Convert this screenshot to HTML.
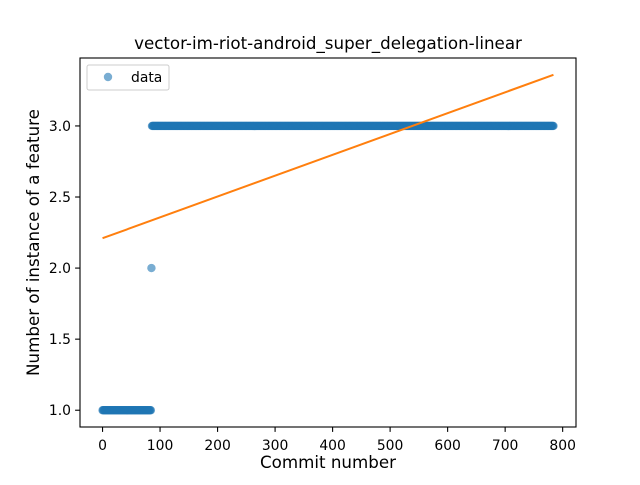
<!DOCTYPE html>
<html><head><meta charset="utf-8"><style>
body{margin:0;background:#fff;}
svg text{font-family:"DejaVu Sans","Liberation Sans",sans-serif;fill:#000;}
</style></head><body>
<svg id="chart" width="640" height="480" xmlns="http://www.w3.org/2000/svg">
<rect width="640" height="480" fill="#fff"/>
<g id="plot"></g>
</svg>
<script>
// run-length data: value and number of consecutive commits
const runValues = [1, 2, 3];
const runCounts = [85, 1, 699];
const fitStart = 2.21;
const fitEnd = 3.36;
const xTicks = [0, 100, 200, 300, 400, 500, 600, 700, 800];
const yTicks = [1.0, 1.5, 2.0, 2.5, 3.0];

const L=80,R=576,T=58,B=427;
const xMin=-39.2,xMax=823.2,yMin=0.882,yMax=3.478;
const sx=v=>L+(v-xMin)/(xMax-xMin)*(R-L);
const sy=v=>B-(v-yMin)/(yMax-yMin)*(B-T);
const NS='http://www.w3.org/2000/svg';
const g=document.getElementById('plot');
function mk(t,a,p){const e=document.createElementNS(NS,t);for(const k in a)e.setAttribute(k,a[k]);(p||g).appendChild(e);return e;}

const pts=mk('g',{});


let i=0;
for(let r=0;r<runValues.length;r++){
  for(let c=0;c<runCounts[r];c++){
    const p=mk('circle',{cx:sx(i),cy:sy(runValues[r]),r:4.2,fill:'#1f77b4','fill-opacity':0.6},pts);
    
    
    i++;
  }
}
const lastX=i-1;
const fl=mk('line',{x1:sx(0),y1:sy(fitStart),x2:sx(lastX),y2:sy(fitEnd),stroke:'#ff7f0e','stroke-width':2});



const fr=mk('rect',{x:L,y:T,width:R-L,height:B-T,fill:'none',stroke:'#000','stroke-width':1.1});



xTicks.forEach(v=>{
  const x=sx(v);
  mk('line',{x1:x,y1:B,x2:x,y2:B+4.9,stroke:'#000','stroke-width':1.1});
  const t=mk('text',{x:x,y:B+23,'font-size':13.9,'text-anchor':'middle'});t.textContent=v;
  
  
});
yTicks.forEach(v=>{
  const y=sy(v);
  mk('line',{x1:L-4.9,y1:y,x2:L,y2:y,stroke:'#000','stroke-width':1.1});
  const t=mk('text',{x:L-9,y:y+5,'font-size':13.9,'text-anchor':'end'});t.textContent=v.toFixed(1);
  
  
});
let t=mk('text',{x:(L+R)/2,y:468,'font-size':16.7,'text-anchor':'middle'});t.textContent='Commit number';


t=mk('text',{x:0,y:0,'font-size':16.7,'text-anchor':'middle',transform:`translate(39,${(T+B)/2}) rotate(-90)`});t.textContent='Number of instance of a feature';


t=mk('text',{x:(L+R)/2,y:49,'font-size':16.7,'text-anchor':'middle'});t.textContent='vector-im-riot-android_super_delegation-linear';



const lg=mk('g',{});


mk('rect',{x:87,y:65,width:82,height:25,rx:2,fill:'#fff',stroke:'#ccc','stroke-width':1},lg);
mk('circle',{cx:108,cy:77,r:4.2,fill:'#1f77b4','fill-opacity':0.6},lg);
t=mk('text',{x:131,y:82,'font-size':13.9},lg);t.textContent='data';


</script>
</body></html>
